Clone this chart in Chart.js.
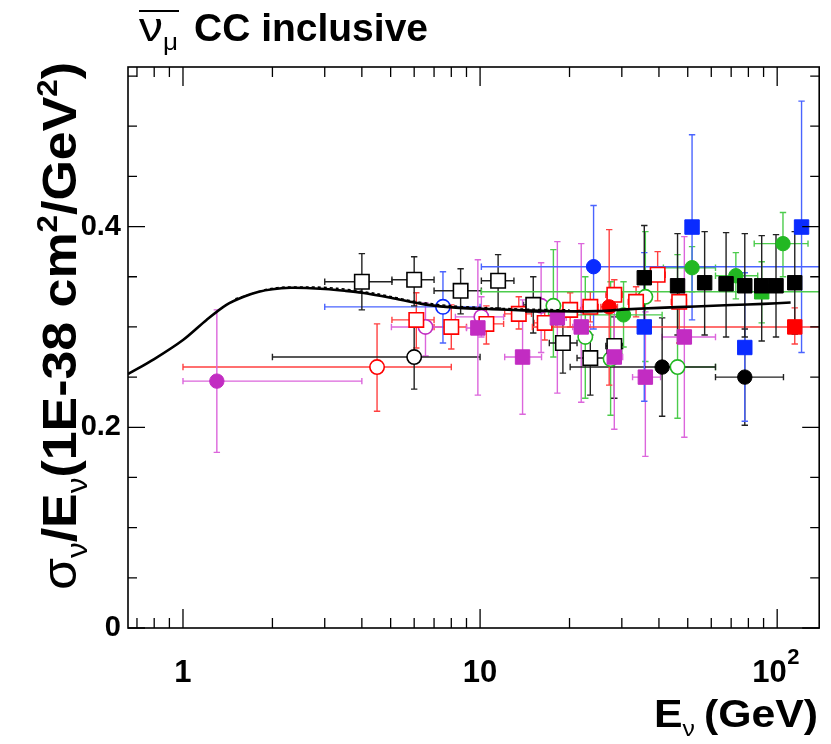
<!DOCTYPE html>
<html><head><meta charset="utf-8">
<script src="https://cdn.jsdelivr.net/npm/chart.js@4.4.1/dist/chart.umd.min.js"></script>
<style>html,body{margin:0;padding:0;background:#fff;}canvas{display:block;}</style>
</head><body>
<canvas id="c" width="831" height="744"></canvas>
<script>
// ---------- axis ticks ----------
const xMajorTicks = [1, 10, 100];
const xTickLabels = ['1', '10', '10\u2002'];
const xTickExponents = ['', '', '2'];
const xMinorTicks = [0.7, 0.8, 0.9, 2, 3, 4, 5, 6, 7, 8, 9, 20, 30, 40, 50, 60, 70, 80, 90];
const yLabelTicks = [0, 0.2, 0.4];
const yTickLabels = ['0', '0.2', '0.4'];
const yMinorTicks = [0.05, 0.1, 0.15, 0.25, 0.3, 0.35, 0.45, 0.5, 0.55];

// ---------- model curves (E, sigma/E) ----------
const modelE = [0.653, 0.8, 1.0, 1.2, 1.4, 1.6, 1.8, 2.0, 2.3, 2.6, 3.0, 3.5, 4.0, 5.0, 6.5, 8.5, 11, 14, 18, 25, 31, 40, 53, 70, 90, 111];
const modelV = [0.253, 0.268, 0.287, 0.307, 0.322, 0.330, 0.335, 0.3375, 0.339, 0.3388, 0.3378, 0.336, 0.334, 0.329, 0.3225, 0.319, 0.3177, 0.3165, 0.3157, 0.3157, 0.3175, 0.319, 0.3204, 0.3218, 0.323, 0.3243];
const modelDashE = [1.5, 2.0, 2.6, 3.3, 4.5, 6.0, 8.0, 11, 15, 20];
const modelDashV = [0.328, 0.3385, 0.3398, 0.3385, 0.333, 0.3255, 0.321, 0.3188, 0.3175, 0.317];

// ---------- data points: [E, value, Elow, Ehigh, valueLow, valueHigh] ----------
const blackOpenSquares = [
  [4.0, 0.345, 3.0, 5.05, 0.317, 0.373],
  [6.0, 0.347, 5.05, 7.0, 0.321, 0.370],
  [8.6, 0.336, 7.0, 10.1, 0.313, 0.358],
  [11.5, 0.346, 10.1, 13.0, 0.319, 0.372],
  [15.1, 0.322, 14.0, 16.4, 0.294, 0.350],
  [19.0, 0.284, 17.1, 21.2, 0.254, 0.312],
  [23.5, 0.269, 21.2, 26.5, 0.232, 0.292],
  [28.3, 0.281, 26.5, 30.2, 0.229, 0.310]
];
const blackOpenCircles = [
  [6.0, 0.270, 2.0, 10.0, 0.238, 0.302]
];
const blackFilledCircles = [
  [41.0, 0.260, 20.1, 62.0, 0.211, 0.309],
  [77.8, 0.250, 62.0, 105.0, 0.202, 0.298]
];
const blackFilledSquares = [
  [35.7, 0.349, 35.7, 35.7, 0.296, 0.401],
  [46.2, 0.341, 46.2, 46.2, 0.292, 0.393],
  [57.0, 0.344, 57.0, 57.0, 0.292, 0.395],
  [67.3, 0.343, 67.3, 67.3, 0.290, 0.394],
  [77.8, 0.341, 77.8, 77.8, 0.290, 0.393],
  [88.7, 0.341, 88.7, 88.7, 0.286, 0.391],
  [99.1, 0.341, 99.1, 99.1, 0.290, 0.392],
  [114.6, 0.344, 114.6, 114.6, 0.293, 0.395]
];
const redOpenCircles = [
  [4.5, 0.260, 1.0, 8.0, 0.216, 0.303]
];
const redOpenSquares = [
  [6.1, 0.307, 5.05, 7.0, 0.279, 0.334],
  [8.0, 0.300, 7.0, 9.0, 0.278, 0.322],
  [10.5, 0.303, 9.4, 12.0, 0.283, 0.321],
  [13.5, 0.313, 12.1, 14.9, 0.298, 0.330],
  [16.5, 0.304, 15.2, 18.0, 0.287, 0.320],
  [20.1, 0.317, 18.5, 21.8, 0.300, 0.334],
  [23.5, 0.320, 22.0, 25.0, 0.305, 0.335],
  [28.3, 0.332, 26.5, 30.2, 0.317, 0.347],
  [33.5, 0.325, 31.5, 35.5, 0.310, 0.340],
  [39.6, 0.352, 37.5, 42.0, 0.326, 0.375],
  [46.8, 0.325, 44.0, 49.5, 0.284, 0.344]
];
const redFilledCircles = [
  [27.2, 0.320, 25.5, 29.0, 0.242, 0.397]
];
const redFilledSquares = [
  [114.6, 0.300, 15.0, 200.0, 0.283, 0.319]
];
const blueOpenCircles = [
  [7.5, 0.320, 3.0, 10.0, 0.284, 0.355]
];
const blueFilledCircles = [
  [24.1, 0.360, 10.1, 200.0, 0.298, 0.421]
];
const blueFilledSquares = [
  [35.7, 0.300, 35.7, 35.7, 0.226, 0.374],
  [51.7, 0.3995, 51.7, 51.7, 0.307, 0.4915],
  [77.8, 0.2795, 77.8, 77.8, 0.206, 0.354],
  [120.8, 0.3995, 120.8, 120.8, 0.2745, 0.525]
];
const greenFilledCircles = [
  [30.4, 0.312, 17.0, 41.0, 0.280, 0.345],
  [51.7, 0.359, 41.4, 62.0, 0.335, 0.380],
  [72.6, 0.351, 62.0, 86.0, 0.328, 0.374],
  [104.6, 0.383, 83.7, 127.0, 0.350, 0.414]
];
const greenFilledSquares = [
  [88.7, 0.335, 10.1, 200.0, 0.304, 0.365]
];
const greenOpenCircles = [
  [17.65, 0.321, 17.65, 17.65, 0.270, 0.377],
  [22.6, 0.290, 22.6, 22.6, 0.229, 0.350],
  [27.5, 0.268, 27.5, 27.5, 0.212, 0.345],
  [36.0, 0.330, 36.0, 36.0, 0.2655, 0.395],
  [46.2, 0.260, 41.0, 62.0, 0.209, 0.372]
];
const magentaFilledCircles = [
  [1.3, 0.246, 1.0, 4.0, 0.175, 0.317]
];
const magentaFilledSquares = [
  [9.83, 0.299, 9.0, 10.8, 0.232, 0.367],
  [13.9, 0.270, 12.1, 16.1, 0.213, 0.327],
  [18.2, 0.309, 17.0, 19.5, 0.234, 0.385],
  [21.9, 0.300, 20.5, 23.5, 0.225, 0.383],
  [28.3, 0.270, 26.5, 30.2, 0.198, 0.335],
  [36.0, 0.250, 32.6, 40.5, 0.171, 0.315],
  [48.7, 0.290, 41.0, 62.0, 0.190, 0.390]
];
const magentaOpenCircles = [
  [6.55, 0.300, 5.03, 8.26, 0.271, 0.324],
  [10.1, 0.310, 8.26, 12.0, 0.290, 0.330],
  [16.05, 0.321, 15.0, 17.2, 0.2745, 0.364]
];

// ---------- colours ----------
const C = {
  black: ['#000000', '#222222'],
  red: ['#ff0000', '#ff4040'],
  blue: ['#0a2bff', '#4a64ff'],
  green: ['#22b822', '#4ccc4c'],
  magenta: ['#c22cc2', '#dc66dc']
};

function series(rows, col, shape, open, order) {
  const r = shape === 'rect' ? 10.2 : 7.2;
  return {
    type: 'scatter',
    data: rows.map(p => ({x: p[0], y: p[1]})),
    errs: rows,
    errColor: C[col][1],
    pointStyle: shape,
    pointRadius: r,
    pointHoverRadius: r,
    backgroundColor: open ? '#ffffff' : C[col][0],
    borderColor: C[col][0],
    borderWidth: open ? 1.6 : 1,
    order: order
  };
}

const datasets = [
  {type: 'line', data: modelE.map((e, i) => ({x: e, y: modelV[i]})), borderColor: '#000', borderWidth: 2.6,
   pointRadius: 0, fill: false, tension: 0.3, order: 0},
  {type: 'line', data: modelDashE.map((e, i) => ({x: e, y: modelDashV[i]})), borderColor: '#000', borderWidth: 1.6,
   borderDash: [3, 3], pointRadius: 0, fill: false, tension: 0.3, order: 0},
  series(blackFilledSquares, 'black', 'rect', false, 1),
  series(blueFilledSquares, 'blue', 'rect', false, 2),
  series(redFilledSquares, 'red', 'rect', false, 2),
  series(greenFilledSquares, 'green', 'rect', false, 2),
  series(blackFilledCircles, 'black', 'circle', false, 3),
  series(greenFilledCircles, 'green', 'circle', false, 3),
  series(blueFilledCircles, 'blue', 'circle', false, 3),
  series(redFilledCircles, 'red', 'circle', false, 3),
  series(magentaFilledSquares, 'magenta', 'rect', false, 4),
  series(magentaFilledCircles, 'magenta', 'circle', false, 4),
  series(blackOpenSquares, 'black', 'rect', true, 5),
  series(redOpenSquares, 'red', 'rect', true, 6),
  series(greenOpenCircles, 'green', 'circle', true, 6),
  series(magentaOpenCircles, 'magenta', 'circle', true, 6),
  series(blueOpenCircles, 'blue', 'circle', true, 6),
  series(redOpenCircles, 'red', 'circle', true, 6),
  series(blackOpenCircles, 'black', 'circle', true, 6)
];

// ---------- error bars ----------
const errorBars = {
  id: 'errorBars',
  beforeDatasetsDraw(chart) {
    const {ctx, chartArea: a, scales: {x, y}} = chart;
    ctx.save();
    ctx.beginPath();
    ctx.rect(a.left, a.top, a.right - a.left, a.bottom - a.top);
    ctx.clip();
    ctx.lineWidth = 1.4;
    const cap = 3.2;
    chart.data.datasets.slice().sort((p, q) => (q.order || 0) - (p.order || 0)).forEach(ds => {
      if (!ds.errs) return;
      ctx.strokeStyle = ds.errColor;
      ds.errs.forEach(r => {
        const px = x.getPixelForValue(r[0]), py = y.getPixelForValue(r[1]);
        const xl = x.getPixelForValue(r[2]), xh = x.getPixelForValue(r[3]);
        const yl = y.getPixelForValue(r[4]), yh = y.getPixelForValue(r[5]);
        ctx.beginPath();
        if (px - xl > 1) { ctx.moveTo(xl, py); ctx.lineTo(px, py); ctx.moveTo(xl, py - cap); ctx.lineTo(xl, py + cap); }
        if (xh - px > 1) { ctx.moveTo(px, py); ctx.lineTo(xh, py); ctx.moveTo(xh, py - cap); ctx.lineTo(xh, py + cap); }
        if (yl - py > 1) { ctx.moveTo(px, py); ctx.lineTo(px, yl); ctx.moveTo(px - cap, yl); ctx.lineTo(px + cap, yl); }
        if (py - yh > 1) { ctx.moveTo(px, py); ctx.lineTo(px, yh); ctx.moveTo(px - cap, yh); ctx.lineTo(px + cap, yh); }
        ctx.stroke();
      });
    });
    ctx.restore();
  }
};

// ---------- frame and ROOT-style ticks ----------
const frame = {
  id: 'frame',
  afterDatasetsDraw(chart) {
    const {ctx, chartArea: a, scales: {x, y}} = chart;
    ctx.save();
    ctx.strokeStyle = '#000';
    ctx.lineWidth = 1.6;
    ctx.strokeRect(a.left, a.top, a.right - a.left, a.bottom - a.top);
    ctx.lineWidth = 1.3;
    ctx.beginPath();
    const xt = (v, len) => { const p = x.getPixelForValue(v);
      ctx.moveTo(p, a.bottom); ctx.lineTo(p, a.bottom - len);
      ctx.moveTo(p, a.top); ctx.lineTo(p, a.top + len); };
    const yt = (v, len) => { const p = y.getPixelForValue(v);
      ctx.moveTo(a.left, p); ctx.lineTo(a.left + len, p);
      ctx.moveTo(a.right, p); ctx.lineTo(a.right - len, p); };
    xMajorTicks.forEach(v => xt(v, 19));
    xMinorTicks.forEach(v => xt(v, 10));
    yLabelTicks.forEach(v => yt(v, 17));
    yMinorTicks.forEach(v => yt(v, 9));
    ctx.stroke();
    ctx.restore();
  }
};

// ---------- rich text helper (real text via fillText) ----------
function drawRich(ctx, segs, x, y, rot, target, align) {
  ctx.save();
  let total = 0;
  segs.forEach(s => { ctx.font = s.f; s.w = ctx.measureText(s.t).width; total += s.w + (s.k || 0); });
  const sx = target ? target / total : 1;
  ctx.translate(x, y);
  if (rot) ctx.rotate(-Math.PI / 2);
  ctx.scale(sx, 1);
  let cx = align === 'right' ? -total : 0;
  ctx.fillStyle = '#000';
  ctx.textBaseline = 'alphabetic';
  ctx.textAlign = 'left';
  segs.forEach(s => { ctx.font = s.f; ctx.fillText(s.t, cx, s.dy || 0); cx += s.w + (s.k || 0); });
  ctx.restore();
}

const texts = {
  id: 'texts',
  afterDraw(chart) {
    const ctx = chart.ctx;
    const xs = chart.scales.x;
    // exponent of the 10^2 tick label
    xMajorTicks.forEach((v, i) => {
      if (!xTickExponents[i]) return;
      ctx.save();
      ctx.font = 'bold 22px "Liberation Sans"';
      ctx.fillStyle = '#000';
      ctx.textAlign = 'left';
      ctx.textBaseline = 'alphabetic';
      ctx.fillText(xTickExponents[i], xs.getPixelForValue(v) + 10, 664);
      ctx.restore();
    });
    // title: anti-nu_mu CC inclusive
    drawRich(ctx, [{t: '\u03bd', f: 'normal 40px "Liberation Sans"'}], 139, 41, false, 24);
    ctx.save(); ctx.strokeStyle = '#000'; ctx.lineWidth = 2.2;
    ctx.beginPath(); ctx.moveTo(139, 11); ctx.lineTo(179, 11); ctx.stroke(); ctx.restore();
    drawRich(ctx, [{t: '\u03bc', f: 'normal 24px "Liberation Sans"'}], 163, 50, false, 15);
    drawRich(ctx, [{t: 'CC inclusive', f: 'bold 39px "Liberation Sans"'}], 194, 41, false, 234);
    // x title
    drawRich(ctx, [
      {t: 'E', f: 'bold 38px "Liberation Sans"'},
      {t: '\u03bd', f: 'normal 22px "Liberation Sans"', dy: 9, k: 8},
      {t: '(GeV)', f: 'bold 38px "Liberation Sans"'}
    ], 818, 727, false, 164, 'right');
    // y title
    drawRich(ctx, [
      {t: '\u03c3', f: 'normal 48px "Liberation Sans"'},
      {t: '\u03bd', f: 'normal 29px "Liberation Sans"', dy: 11},
      {t: '/E', f: 'bold 48px "Liberation Sans"'},
      {t: '\u03bd', f: 'normal 29px "Liberation Sans"', dy: 11},
      {t: '(1E-38 cm', f: 'bold 48px "Liberation Sans"'},
      {t: '2', f: 'bold 29px "Liberation Sans"', dy: -19},
      {t: '/GeV', f: 'bold 48px "Liberation Sans"'},
      {t: '2', f: 'bold 29px "Liberation Sans"', dy: -19},
      {t: ')', f: 'bold 48px "Liberation Sans"'}
    ], 76, 590, true, 528);
  }
};

new Chart(document.getElementById('c'), {
  type: 'scatter',
  data: {datasets},
  options: {
    responsive: false,
    animation: false,
    devicePixelRatio: 1,
    layout: {padding: {left: 0, right: 9, top: 67, bottom: 0}},
    plugins: {legend: {display: false}, tooltip: {enabled: false}},
    scales: {
      x: {
        type: 'logarithmic', min: 0.653, max: 138.5, position: 'bottom',
        grid: {display: false, drawTicks: false}, border: {display: false},
        afterBuildTicks: s => { s.ticks = xMajorTicks.map(v => ({value: v})); },
        afterFit: s => { s.height = 116; },
        ticks: {
          autoSkip: false, maxRotation: 0, padding: 27, color: '#000',
          font: {family: 'Liberation Sans', weight: 'bold', size: 31},
          callback: v => xTickLabels[xMajorTicks.indexOf(v)] ?? ''
        }
      },
      y: {
        type: 'linear', min: 0, max: 0.559,
        grid: {display: false, drawTicks: false}, border: {display: false},
        afterBuildTicks: s => { s.ticks = yLabelTicks.map(v => ({value: v})); },
        afterFit: s => { s.width = 128; },
        ticks: {
          padding: 7, color: '#000',
          font: {family: 'Liberation Sans', weight: 'bold', size: 29},
          callback: v => { const i = yLabelTicks.findIndex(t => Math.abs(t - v) < 1e-9); return i >= 0 ? yTickLabels[i] : ''; }
        }
      }
    }
  },
  plugins: [errorBars, frame, texts]
});
</script>
</body></html>
